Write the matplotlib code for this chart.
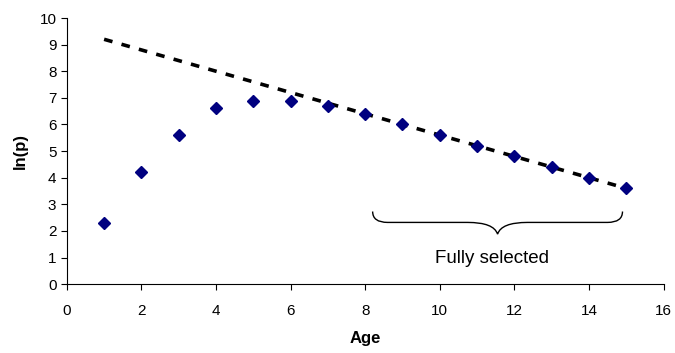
import matplotlib.pyplot as plt
from matplotlib.path import Path
from matplotlib.patches import PathPatch

plt.rcParams['font.family'] = ['Liberation Sans', 'DejaVu Sans']

# data
ages = [1, 2, 3, 4, 5, 6, 7, 8, 9, 10, 11, 12, 13, 14, 15]
ln_p = [2.3, 4.2, 5.6, 6.6, 6.9, 6.9, 6.7, 6.4, 6.0, 5.6, 5.2, 4.8, 4.4, 4.0, 3.6]
trend_x = [1, 15]
trend_y = [9.2, 3.6]
brace_from, brace_to = 8.2, 14.9
brace_label = "Fully selected"

fig = plt.figure(figsize=(6.75, 3.53), dpi=100)
ax = fig.add_axes([0.099, 0.195, 0.884, 0.754])

ax.plot(trend_x, trend_y, color='black', lw=2.6, dashes=(2.4, 2.6), zorder=2)
ax.plot(ages, ln_p, ls='none', marker='D', ms=6.5, color='#000080', zorder=3)

# curly brace under the fully selected ages
mid = (brace_from + brace_to) / 2
y_top, y_mid, y_tip = 2.73, 2.32, 1.88
verts = [(brace_from, y_top), (brace_from, y_mid), (brace_from + 0.4, y_mid), (brace_from + 0.8, y_mid),
         (mid - 0.8, y_mid), (mid - 0.1, y_mid), (mid, y_tip),
         (mid + 0.1, y_mid), (mid + 0.8, y_mid),
         (brace_to - 0.8, y_mid), (brace_to - 0.4, y_mid), (brace_to, y_mid), (brace_to, y_top)]
codes = [Path.MOVETO, Path.CURVE3, Path.CURVE3, Path.LINETO,
         Path.LINETO, Path.CURVE3, Path.CURVE3,
         Path.CURVE3, Path.CURVE3,
         Path.LINETO, Path.LINETO, Path.CURVE3, Path.CURVE3]
ax.add_patch(PathPatch(Path(verts, codes), fill=False, lw=1.0, color='black'))
ax.text(11.4, 0.95, brace_label, ha='center', va='center', fontsize=13.5)

ax.set_xlim(0, 16)
ax.set_ylim(0, 10)
ax.set_xticks(range(0, 17, 2))
ax.set_yticks(range(0, 11))
ax.spines['top'].set_visible(False)
ax.spines['right'].set_visible(False)
ax.tick_params(direction='out', length=4, labelsize=11)
ax.tick_params(axis='x', pad=10)
ax.set_xlabel('Age', fontweight='bold', fontsize=12, labelpad=10)
ax.set_ylabel('ln(p)', fontweight='bold', fontsize=12, labelpad=8)

fig.savefig('out.png', dpi=100)
